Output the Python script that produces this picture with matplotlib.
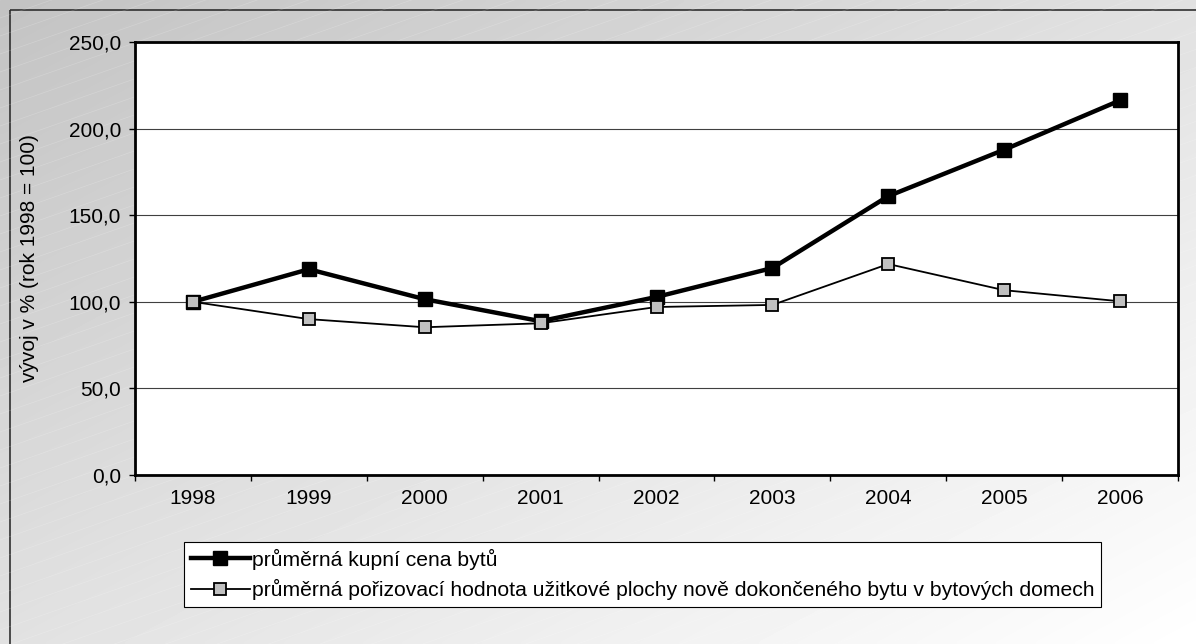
import numpy as np
import matplotlib.pyplot as plt
from matplotlib.patches import Rectangle

# Data
years = ["1998", "1999", "2000", "2001", "2002", "2003", "2004", "2005", "2006"]
kupni_cena = [100.0, 118.8, 101.5, 88.8, 102.8, 119.5, 161.0, 187.8, 216.3]
porizovaci_hodnota = [100.0, 90.0, 85.3, 87.6, 97.0, 98.2, 121.8, 106.7, 100.3]
label_kupni = "průměrná kupní cena bytů"
label_poriz = "průměrná pořizovací hodnota užitkové plochy nově dokončeného bytu v bytových domech"

plt.rcParams["font.family"] = ["Liberation Sans", "DejaVu Sans"]

W, H = 1196, 644
fig = plt.figure(figsize=(W / 100, H / 100), dpi=100)

# Background gradient with faint diagonal streaks
bg = fig.add_axes([0, 0, 1, 1], zorder=-10)
xx, yy = np.meshgrid(np.linspace(0, W, 300), np.linspace(0, H, 160))
grad = 195 + 30 * xx / W + 30 * yy / H
bg.imshow(grad, cmap="gray", vmin=0, vmax=255, aspect="auto",
          extent=[0, W, H, 0], interpolation="bilinear")
for c in np.arange(0, H + 0.35 * W + 40, 18):
    bg.plot([0, W], [c, c - 0.35 * W], color="white", lw=0.5, alpha=0.2)
bg.add_patch(Rectangle((10, 10), W, H, fill=False, edgecolor="#303030", lw=1.2))
bg.set_xlim(0, W)
bg.set_ylim(H, 0)
bg.axis("off")

ax = fig.add_axes([135 / W, 1 - 475 / H, (1178 - 135) / W, (475 - 42) / H])
ax.set_facecolor("white")
x = np.arange(len(years))

ax.plot(x, kupni_cena, "-s", color="black", lw=3.2, ms=9.5,
        mfc="black", mec="black", label=label_kupni, zorder=3)
ax.plot(x, porizovaci_hodnota, "-s", color="black", lw=1.3, ms=8,
        mfc="#c0c0c0", mec="black", mew=1.3, label=label_poriz, zorder=4)

ax.set_xlim(-0.5, len(years) - 0.5)
ax.set_ylim(0, 250)
ax.set_yticks(np.arange(0, 251, 50))
ax.set_yticklabels([f"{v:.1f}".replace(".", ",") for v in np.arange(0, 251, 50)])
ax.set_xticks(x)
ax.set_xticklabels(years)
ax.set_xticks(np.arange(-0.5, len(years), 1), minor=True)
ax.tick_params(axis="x", which="major", length=0, pad=10, labelsize=15)
ax.tick_params(axis="x", which="minor", length=4, width=1, direction="out")
ax.tick_params(axis="y", length=4, width=1, direction="out", pad=6, labelsize=15)
ax.yaxis.grid(True, color="#404040", lw=0.8)
ax.set_axisbelow(True)
for s in ax.spines.values():
    s.set_linewidth(2)
    s.set_color("black")

ax.set_ylabel("vývoj v % (rok 1998 = 100)", fontsize=15, labelpad=21)

leg = fig.legend(loc="upper left", bbox_to_anchor=(184 / W, 1 - 542 / H),
                 fontsize=15.2, frameon=True, fancybox=False, handlelength=2.8,
                 handletextpad=0.08, borderpad=0.32, labelspacing=0.45,
                 borderaxespad=0)
leg.get_frame().set_edgecolor("black")
leg.get_frame().set_linewidth(0.8)
leg.get_frame().set_facecolor("white")
leg.get_frame().set_alpha(1)

fig.savefig("out.png", dpi=100)
